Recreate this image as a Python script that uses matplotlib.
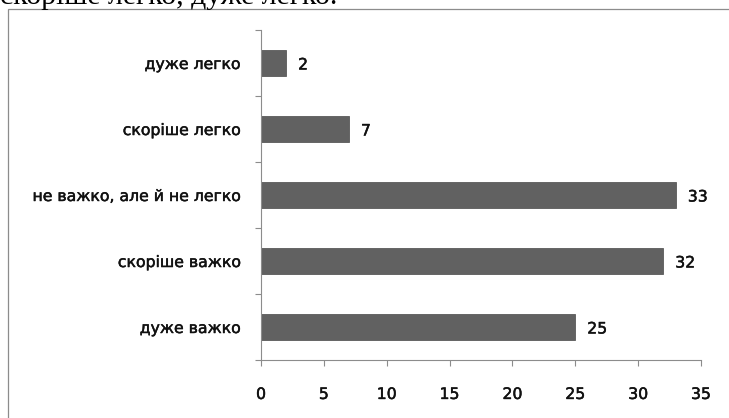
import matplotlib
matplotlib.use("Agg")
import matplotlib.pyplot as plt
import matplotlib.patheffects as pe
from matplotlib.patches import Rectangle

# data, bottom to top
categories = ['дуже важко', 'скоріше важко', 'не важко, але й не легко', 'скоріше легко', 'дуже легко']
values = [25, 32, 33, 7, 2]
xticks = [0, 5, 10, 15, 20, 25, 30, 35]

W, H = 729, 418
fig = plt.figure(figsize=(W / 100, H / 100), dpi=100)

# piece of the document text cut off at the top
fig.text(0.0, 1 - 4.5 / H, 'скоріше легко, дуже легко.', family='Liberation Serif',
         fontsize=21.5, va='baseline', ha='left', color='black')

# chart frame (runs past the right and bottom edges)
fig.patches.append(Rectangle((8 / W, -0.1), 1.2, 1 - 9 / H + 0.1, transform=fig.transFigure,
                             fill=False, edgecolor='#8c8c8c', lw=0.9, figure=fig))

ax = fig.add_axes([261 / W, 1 - 360 / H, 440 / W, 330 / H])

ypos = list(range(len(categories)))
ax.barh(ypos, values, height=0.4, color='#616161', edgecolor='#5a5a5a', lw=0.6, zorder=2)

# slightly heavier text, like the original rendering
thick = [pe.withStroke(linewidth=0.35, foreground='#111111')]
fnt = dict(family='DejaVu Sans', fontsize=11.3, color='#111111')

for y, v in zip(ypos, values):
    ax.text(v + 0.95, y - 0.03, str(v), va='center', ha='left', path_effects=thick, **fnt)

ax.set_xlim(0, 35)
ax.set_ylim(-0.5, len(categories) - 0.5)
ax.set_xticks(xticks)
ax.set_xticklabels([str(t) for t in xticks], path_effects=thick, **fnt)

# ticks on the category boundaries, labels at the centres
ax.set_yticks([i - 0.5 for i in range(len(categories) + 1)])
ax.set_yticklabels([])
ax.set_yticks(ypos, minor=True)
ax.set_yticklabels(categories, minor=True, path_effects=thick, **fnt)
ax.tick_params(axis='y', which='minor', length=0, pad=14.5)
ax.tick_params(axis='y', which='major', length=4.4, color='#8c8c8c', width=0.8)
ax.tick_params(axis='x', length=4.4, color='#8c8c8c', width=0.8, pad=15)

for s in ['top', 'right']:
    ax.spines[s].set_visible(False)
for s in ['left', 'bottom']:
    ax.spines[s].set_color('#8c8c8c')
    ax.spines[s].set_linewidth(0.8)

fig.savefig('out.png', dpi=100)
